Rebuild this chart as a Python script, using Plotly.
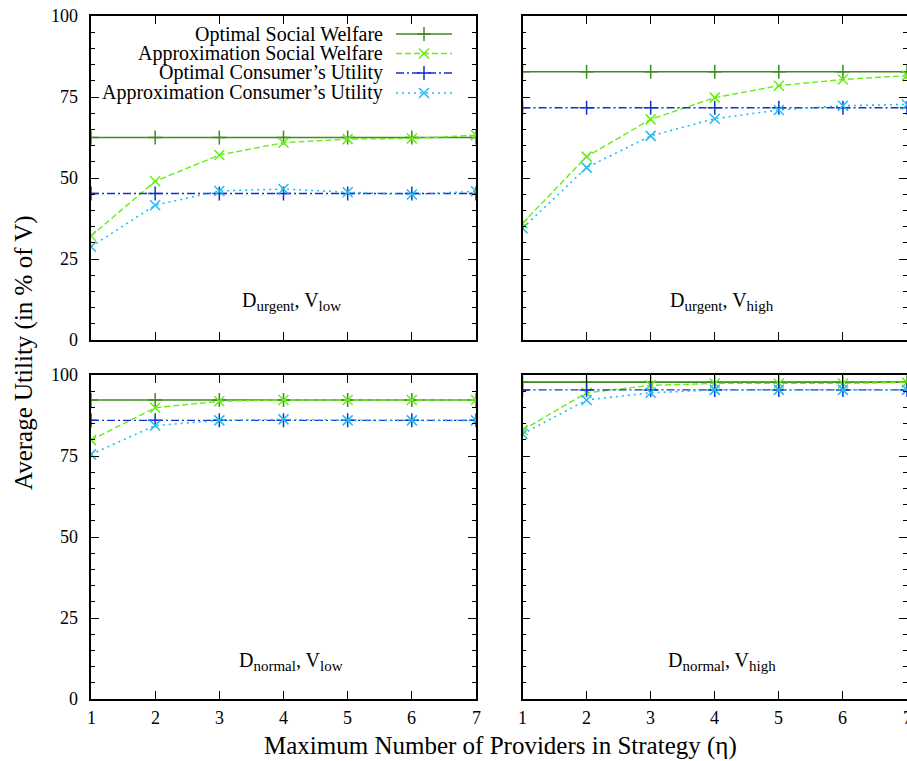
import plotly.graph_objects as go

# Maximum number of providers in a strategy
eta = [1, 2, 3, 4, 5, 6, 7]

# D_urgent, V_low
ul_opt_sw = [62.5, 62.5, 62.5, 62.5, 62.5, 62.5, 62.5]
ul_apx_sw = [32.1, 49.0, 57.1, 60.9, 62.0, 62.2, 63.2]
ul_opt_cu = [45.2, 45.2, 45.2, 45.2, 45.2, 45.2, 45.2]
ul_apx_cu = [28.8, 41.6, 46.0, 46.6, 45.6, 44.9, 45.9]

# D_urgent, V_high
uh_opt_sw = [82.8, 82.8, 82.8, 82.8, 82.8, 82.8, 82.8]
uh_apx_sw = [36.0, 56.6, 68.1, 74.8, 78.5, 80.4, 81.6]
uh_opt_cu = [71.7, 71.7, 71.7, 71.7, 71.7, 71.7, 71.7]
uh_apx_cu = [34.5, 53.2, 63.0, 68.3, 71.0, 72.3, 72.7]

# D_normal, V_low
nl_opt_sw = [92.3, 92.3, 92.3, 92.3, 92.3, 92.3, 92.3]
nl_apx_sw = [79.9, 89.9, 91.9, 92.3, 92.3, 92.3, 92.3]
nl_opt_cu = [86.0, 86.0, 86.0, 86.0, 86.0, 86.0, 86.0]
nl_apx_cu = [75.5, 84.4, 86.0, 86.3, 86.0, 86.0, 86.0]

# D_normal, V_high
nh_opt_sw = [97.8, 97.8, 97.8, 97.8, 97.8, 97.8, 97.8]
nh_apx_sw = [83.0, 94.5, 96.8, 97.4, 97.4, 97.4, 97.7]
nh_opt_cu = [95.4, 95.4, 95.4, 95.4, 95.4, 95.4, 95.4]
nh_apx_cu = [81.8, 92.3, 94.5, 95.4, 95.4, 95.4, 95.4]

series_names = [
    "Optimal Social Welfare",
    "Approximation Social Welfare",
    "Optimal Consumer\u2019s Utility",
    "Approximation Consumer\u2019s Utility",
]
SUB = "<sub><span style='font-size:15px'>{}</span></sub>"
panel_labels = [
    "D" + SUB.format("urgent") + ", V" + SUB.format("low"),
    "D" + SUB.format("urgent") + ", V" + SUB.format("high"),
    "D" + SUB.format("normal") + ", V" + SUB.format("low"),
    "D" + SUB.format("normal") + ", V" + SUB.format("high"),
]
y_ticks = [0, 25, 50, 75, 100]
x_tick_text = ["1", "2", "3", "4", "5", "6", "7"]
y_tick_text = ["0", "25", "50", "75", "100"]

W, H = 907, 761
FONT = "Liberation Serif"

styles = [
    dict(color="#3c8c22", dash="solid", symbol="cross-thin-open", width=1.6),
    dict(color="#66ee11", dash="6px,3px", symbol="x-thin-open", width=1.4),
    dict(color="#1133cc", dash="8px,3px,2px,3px", symbol="cross-thin-open", width=1.4),
    dict(color="#22bbf0", dash="2px,4px", symbol="x-thin-open", width=1.6),
]

panels = [
    (ul_opt_sw, ul_apx_sw, ul_opt_cu, ul_apx_cu),
    (uh_opt_sw, uh_apx_sw, uh_opt_cu, uh_apx_cu),
    (nl_opt_sw, nl_apx_sw, nl_opt_cu, nl_apx_cu),
    (nh_opt_sw, nh_apx_sw, nh_opt_cu, nh_apx_cu),
]

# pixel frame of each panel: (left, right, top, bottom)
frames = [
    (91, 476, 16, 340),
    (522.5, 907, 16, 340),
    (91, 476, 375, 699),
    (522.5, 907, 375, 699),
]

fig = go.Figure()
axes = {}
annotations = []

for i, (data, frame) in enumerate(zip(panels, frames)):
    sfx = "" if i == 0 else str(i + 1)
    for s, (vals, st) in enumerate(zip(data, styles)):
        fig.add_trace(go.Scatter(
            x=eta, y=vals, mode="lines+markers",
            xaxis="x" + sfx, yaxis="y" + sfx,
            line=dict(color=st["color"], dash=st["dash"], width=st["width"]),
            marker=dict(symbol=st["symbol"], size=10, color=st["color"],
                        line=dict(color=st["color"], width=1.5)),
            showlegend=False, name=series_names[s],
        ))

    l, r, t, b = frame
    xdom = [l / W, min(r / W, 1.0)]
    ydom = [(H - b) / H, (H - t) / H]
    bottom_row = i >= 2
    left_col = i % 2 == 0
    axes["xaxis" + sfx] = dict(
        domain=xdom, range=[1, 7], anchor="y" + sfx, automargin=False,
        tickmode="array", tickvals=eta, ticks="inside", ticklen=8, tickwidth=1.2,
        tickcolor="black",
        mirror="ticks", showline=True, linecolor="black", linewidth=1.6,
        showgrid=False, zeroline=False, showticklabels=False,
    )
    axes["yaxis" + sfx] = dict(
        domain=ydom, range=[0, 100], anchor="x" + sfx, automargin=False,
        tickmode="array", tickvals=y_ticks, ticks="inside", ticklen=8, tickwidth=1.2,
        tickcolor="black",
        minor=dict(dtick=5, ticks="inside", ticklen=4, tickwidth=1.2, tickcolor="black"),
        mirror="ticks", showline=True, linecolor="black", linewidth=1.6,
        showgrid=False, zeroline=False, showticklabels=False,
    )

    # serif tick labels placed on the axis scales
    if bottom_row:
        for v, txt in zip(eta, x_tick_text):
            annotations.append(dict(
                x=v, xref="x" + sfx, y=(H - 718) / H, yref="paper",
                text=txt, showarrow=False, xanchor="center", yanchor="middle",
                font=dict(family=FONT, size=18, color="black"),
            ))
    if left_col:
        for v, txt in zip(y_ticks, y_tick_text):
            annotations.append(dict(
                x=(l - 11) / W, xref="paper", y=v, yref="y" + sfx,
                text=txt, showarrow=False, xanchor="right", yanchor="middle",
                font=dict(family=FONT, size=18, color="black"),
            ))

# Key overlay in pixel coordinates of the page
key_rows = [34, 53.5, 73, 93]
key_text_right = 385
key_x0, key_x1 = 396, 452
for yk, st in zip(key_rows, styles):
    fig.add_trace(go.Scatter(
        x=[key_x0, (key_x0 + key_x1) / 2, key_x1], y=[yk, yk, yk],
        mode="lines", xaxis="x5", yaxis="y5",
        line=dict(color=st["color"], dash=st["dash"], width=st["width"]),
        showlegend=False, hoverinfo="skip",
    ))
    fig.add_trace(go.Scatter(
        x=[(key_x0 + key_x1) / 2], y=[yk], mode="markers",
        xaxis="x5", yaxis="y5",
        marker=dict(symbol=st["symbol"], size=10, color=st["color"],
                    line=dict(color=st["color"], width=1.5)),
        showlegend=False, hoverinfo="skip",
    ))
axes["xaxis5"] = dict(domain=[0, 1], range=[0, W], visible=False, fixedrange=True,
                      anchor="y5", automargin=False)
axes["yaxis5"] = dict(domain=[0, 1], range=[H, 0], visible=False, fixedrange=True,
                      anchor="x5", automargin=False)

for yk, name in zip(key_rows, series_names):
    annotations.append(dict(
        x=key_text_right / W, y=(H - yk) / H, xref="paper", yref="paper",
        text=name, showarrow=False, xanchor="right", yanchor="middle",
        font=dict(family=FONT, size=20, color="black"),
    ))

label_pos = [(291, 302), (722, 302), (291, 661), (722, 661)]
for (px, py), txt in zip(label_pos, panel_labels):
    annotations.append(dict(
        x=px / W, y=(H - py) / H, xref="paper", yref="paper",
        text=txt, showarrow=False, xanchor="center", yanchor="middle",
        font=dict(family=FONT, size=20, color="black"),
    ))

annotations.append(dict(
    x=500 / W, y=(H - 746) / H, xref="paper", yref="paper",
    text="Maximum Number of Providers in Strategy (\u03b7)", showarrow=False,
    xanchor="center", yanchor="middle",
    font=dict(family=FONT, size=25, color="black"),
))
annotations.append(dict(
    x=24 / W, y=(H - 353) / H, xref="paper", yref="paper",
    text="Average Utility (in % of V)", showarrow=False, textangle=-90,
    xanchor="center", yanchor="middle",
    font=dict(family=FONT, size=25, color="black"),
))

fig.update_layout(
    width=W, height=H,
    margin=dict(l=0, r=0, t=0, b=0, pad=0),
    paper_bgcolor="white", plot_bgcolor="rgba(0,0,0,0)",
    annotations=annotations,
    font=dict(family=FONT, color="black", size=18),
    **axes,
)

fig.write_html("out.html", config=dict(displayModeBar=False))
